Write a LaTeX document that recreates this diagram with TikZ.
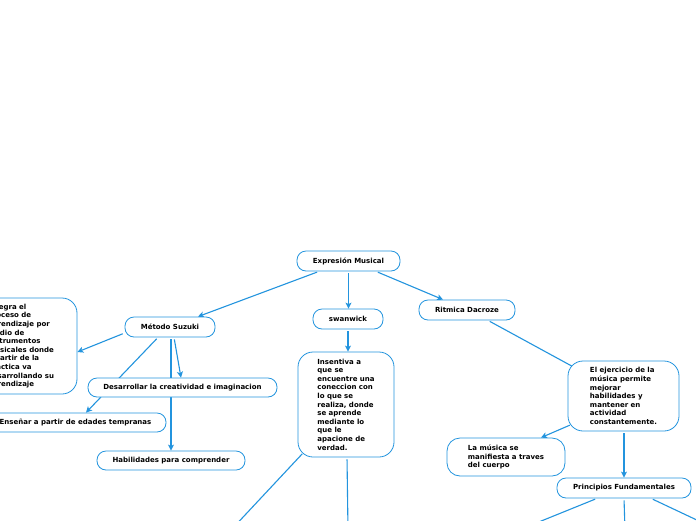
\documentclass[tikz,border=0pt]{standalone}
\usepackage{fontspec}
\setmainfont{DejaVu Sans}
\usetikzlibrary{arrows.meta,backgrounds}
\definecolor{lnk}{RGB}{35,148,222}
\tikzset{
  box/.style={draw=lnk, line width=0.8pt, fill=white, rounded corners=9pt,
    font=\fontsize{7}{8.6}\selectfont\bfseries, inner sep=0pt, align=center},
  bigbox/.style={box, rounded corners=15pt, align=left},
  con/.style={draw=lnk, line width=1.1pt, shorten <=2pt},
  arr/.style={con, -{Stealth[length=6pt,width=6pt,inset=1.5pt]}},
}
\begin{document}
\begin{tikzpicture}[x=1pt,y=-1pt]
\useasboundingbox (0,0) rectangle (696,520);
\clip (0,0) rectangle (696,520);
% coordinates beyond the lower edge
\coordinate (c1) at (231,530);
\coordinate (c2) at (348,530);
\coordinate (c3) at (519,530);
\coordinate (c4) at (625,530);
\coordinate (c5) at (718,530);
% nodes
\node[box, minimum width=103pt, minimum height=20pt] (expr) at (348.5,261) {Expresión Musical};
\node[box, minimum width=70pt, minimum height=20pt] (sw) at (348,319) {swanwick};
\node[box, minimum width=96pt, minimum height=20pt] (rit) at (467,310) {Ritmica Dacroze};
\node[box, minimum width=90pt, minimum height=20pt] (met) at (170,327) {Método Suzuki};
\node[bigbox, minimum width=112pt, minimum height=96pt] (lft) at (21,346) {Integra el\\proceso de\\aprendizaje por\\medio de\\instrumentos\\musicales donde\\a partir de la\\practica va\\desarrollando su\\aprendizaje};
\node[box, minimum width=189pt, minimum height=19pt] (des) at (182.5,387.5) {Desarrollar la creatividad e imaginacion};
\node[box, minimum width=181pt, minimum height=19pt] (ens) at (75.5,422.5) {Enseñar a partir de edades tempranas};
\node[box, minimum width=148pt, minimum height=19pt] (hab) at (171,460.5) {Habilidades para comprender};
\node[bigbox, minimum width=96pt, minimum height=105pt] (ins) at (346,404.5) {Insentiva a\\que se\\encuentre una\\coneccion con\\lo que se\\realiza, donde\\se aprende\\mediante lo\\que le\\apacione de\\verdad.};
\node[bigbox, minimum width=111pt, minimum height=70pt] (eje) at (623.5,396) {El ejercicio de la\\música permite\\mejorar\\habilidades y\\mantener en\\actividad\\constantemente.};
\node[bigbox, rounded corners=13pt, minimum width=118pt, minimum height=38pt] (mus) at (506,457) {La música se\\manifiesta a traves\\del cuerpo};
\node[box, minimum width=134pt, minimum height=20pt] (pri) at (624,488) {Principios Fundamentales};
% connectors, behind the nodes
\begin{scope}[on background layer]
\fill[white] (0,0) rectangle (696,520);
\draw[arr] ([xshift=-29.5]expr.south) -- ([xshift=28]met.north);
\draw[arr] (expr.south) -- ([xshift=0.5]sw.north);
\draw[arr] ([xshift=27.5]expr.south) -- ([xshift=-24]rit.north);
\draw[arr] ([yshift=-6]met.west) -- ([yshift=-6]lft.east);
\draw[arr] ([xshift=-12]met.south) -- ([xshift=10.5]ens.north);
\draw[arr] ([xshift=4]met.south) -- ([xshift=-1.5]des.north);
\draw[arr] ([xshift=1]met.south) -- (hab.north);
\draw[arr] (sw.south) -- ([xshift=2]ins.north);
\draw[con] ([xshift=6,yshift=5]ins.south west) -- (c1);
\draw[con] ([xshift=1]ins.south) -- (c2);
\draw[con] ([xshift=21]rit.south) -- ([xshift=7,yshift=-7]eje.north west);
\draw[arr] ([xshift=4,yshift=7]eje.south west) -- ([xshift=35]mus.north);
\draw[arr] ([xshift=0.5]eje.south) -- (pri.north);
\draw[con] ([xshift=-27]pri.south) -- (c3);
\draw[con] (pri.south) -- (c4);
\draw[con] ([xshift=27]pri.south) -- (c5);
\end{scope}
\end{tikzpicture}
\end{document}
